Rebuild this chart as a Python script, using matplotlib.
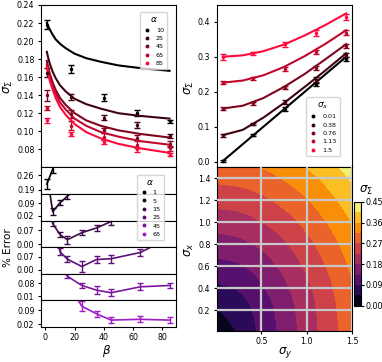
#!/usr/bin/env python3

import numpy as np
import matplotlib
matplotlib.use('Agg')
import matplotlib.pyplot as plt
import matplotlib.tri as mtri
from matplotlib.colors import LinearSegmentedColormap
from matplotlib.lines import Line2D

W, H = 382, 362

# ---- top left: sigma_Sigma vs beta for several alpha
alphas = [10, 25, 45, 65, 85]
beta_pts = [1, 17.5, 40, 62.5, 85]
sig_pts = [
    [0.218, 0.169, 0.137, 0.120, 0.111],
    [0.165, 0.138, 0.115, 0.107, 0.095],
    [0.140, 0.119, 0.101, 0.093, 0.086],
    [0.126, 0.106, 0.094, 0.085, 0.081],
    [0.112, 0.097, 0.088, 0.080, 0.074],
]
sig_err = [
    [0.005, 0.004, 0.004, 0.003, 0.002],
    [0.005, 0.003, 0.003, 0.003, 0.002],
    [0.006, 0.004, 0.003, 0.003, 0.003],
    [0.002, 0.005, 0.004, 0.004, 0.003],
    [0.003, 0.002, 0.002, 0.003, 0.002],
]
beta_fit = [1, 2, 3, 5, 7, 10, 14, 20, 28, 38, 50, 65, 85]
sig_fit = [
    [0.220, 0.216, 0.213, 0.207, 0.202, 0.197, 0.192, 0.186, 0.181, 0.177, 0.173, 0.170, 0.167],
    [0.188, 0.181, 0.175, 0.166, 0.159, 0.151, 0.144, 0.136, 0.130, 0.125, 0.120, 0.117, 0.114],
    [0.178, 0.170, 0.164, 0.154, 0.146, 0.137, 0.129, 0.120, 0.112, 0.106, 0.101, 0.097, 0.093],
    [0.174, 0.166, 0.160, 0.150, 0.142, 0.132, 0.124, 0.114, 0.106, 0.099, 0.094, 0.089, 0.085],
    [0.171, 0.163, 0.156, 0.146, 0.137, 0.127, 0.118, 0.108, 0.099, 0.092, 0.086, 0.081, 0.076],
]

# ---- bottom left: % error vs beta, one panel per alpha
err_alphas = [1, 5, 15, 25, 45, 65]
beta_err = [1, 5, 10, 15, 25, 35, 45, 65, 85]
pct_err = [
    [0.218, 0.290, 0.50, 0.70, 1.00, 1.20, 1.40, 1.80, 2.20],
    [0.254, 0.043, 0.092, 0.127, 0.200, 0.300, 0.400, 0.550, 0.700],
    [0.500, 0.105, 0.048, 0.022, 0.058, 0.082, 0.115, 0.200, 0.300],
    [0.600, 0.300, 0.096, 0.057, 0.018, 0.055, 0.059, 0.092, 0.170],
    [0.800, 0.500, 0.300, 0.119, 0.069, 0.044, 0.030, 0.062, 0.069],
    [0.900, 0.600, 0.400, 0.230, 0.111, 0.073, 0.041, 0.045, 0.041],
]
pct_err_sd = [
    [0.025, 0.020, 0.02, 0.02, 0.02, 0.02, 0.02, 0.02, 0.02],
    [0.020, 0.020, 0.015, 0.015, 0.02, 0.02, 0.02, 0.02, 0.02],
    [0.020, 0.012, 0.014, 0.020, 0.012, 0.014, 0.020, 0.02, 0.02],
    [0.020, 0.020, 0.018, 0.014, 0.030, 0.018, 0.022, 0.018, 0.02],
    [0.020, 0.020, 0.020, 0.012, 0.012, 0.020, 0.018, 0.018, 0.012],
    [0.020, 0.020, 0.020, 0.020, 0.025, 0.016, 0.016, 0.016, 0.016],
]
err_yticks = [[0.19, 0.26], [0.02, 0.09], [0.00, 0.07], [0.00, 0.07], [0.01, 0.08], [0.02, 0.09]]
err_ylims = [(0.170, 0.300), (-0.005, 0.140), (-0.016, 0.120), (-0.020, 0.120),
             (-0.011, 0.132), (0.006, 0.141)]

# ---- top right: sigma_Sigma vs sigma_y for several sigma_x
sigx_vals = [0.01, 0.38, 0.76, 1.13, 1.5]
sigy_pts = [0.01, 0.38, 0.76, 1.13, 1.5]
tot_pts = [
    [0.003, 0.076, 0.150, 0.221, 0.294],
    [0.076, 0.108, 0.170, 0.235, 0.305],
    [0.151, 0.167, 0.212, 0.268, 0.331],
    [0.226, 0.238, 0.265, 0.313, 0.369],
    [0.300, 0.310, 0.336, 0.368, 0.414],
]
tot_err = [
    [0.003, 0.003, 0.005, 0.005, 0.005],
    [0.004, 0.004, 0.005, 0.006, 0.007],
    [0.004, 0.004, 0.005, 0.006, 0.006],
    [0.004, 0.004, 0.005, 0.006, 0.008],
    [0.008, 0.005, 0.007, 0.008, 0.009],
]
sig_grid = [0.01, 0.25, 0.5, 0.75, 1.0, 1.25, 1.5]
tot_fit = [
    [0.002, 0.050, 0.100, 0.150, 0.200, 0.250, 0.300],
    [0.076, 0.091, 0.126, 0.168, 0.214, 0.261, 0.310],
    [0.152, 0.160, 0.182, 0.214, 0.251, 0.293, 0.336],
    [0.226, 0.232, 0.247, 0.271, 0.302, 0.337, 0.376],
    [0.300, 0.304, 0.316, 0.335, 0.361, 0.391, 0.424],
]

# ---- bottom right: sigma_Sigma map over (sigma_y, sigma_x)
tot_map = [
    [0.002, 0.050, 0.100, 0.150, 0.200, 0.250, 0.300],
    [0.050, 0.071, 0.112, 0.158, 0.206, 0.255, 0.304],
    [0.100, 0.112, 0.141, 0.180, 0.224, 0.269, 0.316],
    [0.150, 0.158, 0.180, 0.212, 0.250, 0.292, 0.335],
    [0.200, 0.206, 0.224, 0.250, 0.283, 0.320, 0.361],
    [0.250, 0.255, 0.269, 0.292, 0.320, 0.354, 0.391],
    [0.300, 0.304, 0.316, 0.335, 0.361, 0.391, 0.424],
]
cbar_ticks = [0.0, 0.09, 0.18, 0.27, 0.36, 0.45]

reds = LinearSegmentedColormap.from_list('k2r', ['black', '#ff0a3c'])
purples = LinearSegmentedColormap.from_list('k2p', ['black', '#9c1cc6'])


def rect(x0, y0, x1, y1):
    return [x0 / W, 1 - y1 / H, (x1 - x0) / W, (y1 - y0) / H]


def label(fig, x, y, s, rot=0, fs=8.5):
    fig.text(x / W, 1 - y / H, s, rotation=rot, fontsize=fs, ha='center', va='center')


def dot_handles(colors):
    return [Line2D([], [], ls='none', marker='o', ms=1.8, color=c) for c in colors]


def main():
    fig = plt.figure(figsize=(W / 100, H / 100), dpi=100)
    tick_fs = 5.7
    leg_kw = dict(fontsize=4.6, title_fontsize=6.5, handlelength=1.2,
                  labelspacing=0.45, borderpad=0.5)

    # top left
    ax = fig.add_axes(rect(40.7, 5, 175.7, 167.3))
    cols = [reds(i / (len(alphas) - 1)) for i in range(len(alphas))]
    for i, c in enumerate(cols):
        ax.plot(beta_fit, sig_fit[i], color=c, lw=1.5)
        ax.errorbar(beta_pts, sig_pts[i], yerr=sig_err[i], fmt='.', ms=3, color=c,
                    capsize=2.2, elinewidth=1, capthick=1)
    ax.set_xlim(-3.2, 89.2)
    ax.set_ylim(0.06, 0.24)
    ax.set_yticks(np.arange(0.08, 0.241, 0.02))
    ax.tick_params(labelsize=tick_fs, length=2.5, pad=2)
    ax.tick_params(axis='x', length=0, labelbottom=False)
    ax.legend(dot_handles(cols), [str(a) for a in alphas], title=r'$\alpha$',
              loc='upper right', bbox_to_anchor=(0.96, 0.975), **leg_kw)
    label(fig, 8, 87, r'$\sigma_\Sigma$', rot=90)

    # bottom left stack
    n = len(err_alphas)
    top, bot = 167.3, 327.0
    h = (bot - top) / n
    pcols = [purples(i / (n - 1)) for i in range(n)]
    for i in range(n):
        a = fig.add_axes(rect(40.7, top + i * h, 175.7, top + (i + 1) * h))
        a.errorbar(beta_err, pct_err[i], yerr=pct_err_sd[i], color=pcols[i], lw=1.2,
                   capsize=2.5, elinewidth=1, capthick=1)
        a.set_xlim(-3.2, 89.2)
        a.set_ylim(*err_ylims[i])
        a.set_yticks(err_yticks[i])
        a.set_yticklabels(['%.2f' % v for v in err_yticks[i]])
        a.tick_params(labelsize=tick_fs, length=2.5, pad=2)
        if i < n - 1:
            a.tick_params(axis='x', length=0, labelbottom=False)
        else:
            a.set_xticks([0, 20, 40, 60, 80])
    label(fig, 8, 248, '% Error', rot=90, fs=7.5)
    label(fig, 107, 351, r'$\beta$')
    fig.legend(dot_handles(pcols), [str(a) for a in err_alphas], title=r'$\alpha$',
               loc='upper right', bbox_to_anchor=(167 / W, 1 - 171.5 / H), **leg_kw)

    # top right
    ax2 = fig.add_axes(rect(216.7, 5, 352.3, 167.3))
    xcols = [reds(i / (len(sigx_vals) - 1)) for i in range(len(sigx_vals))]
    for i, c in enumerate(xcols):
        ax2.plot(sig_grid, tot_fit[i], color=c, lw=1.5)
        ax2.errorbar(sigy_pts, tot_pts[i], yerr=tot_err[i], fmt='.', ms=3, color=c,
                     capsize=2.2, elinewidth=1, capthick=1)
    ax2.set_ylim(-0.016, 0.448)
    ax2.set_yticks([0.0, 0.1, 0.2, 0.3, 0.4])
    ax2.tick_params(labelsize=tick_fs, length=2.5, pad=2)
    ax2.tick_params(axis='x', length=0, labelbottom=False)
    ax2.legend(dot_handles(xcols), [str(v) for v in sigx_vals], title=r'$\sigma_x$',
               loc='lower right', bbox_to_anchor=(0.93, 0.05), **leg_kw)
    label(fig, 189, 88, r'$\sigma_\Sigma$', rot=90)

    # bottom right
    ax3 = fig.add_axes(rect(216.7, 167.3, 352.3, 331))
    gx, gy = np.meshgrid(sig_grid, sig_grid)
    tri = mtri.Triangulation(gx.ravel(), gy.ravel())
    z = np.array(tot_map).ravel()
    refiner = mtri.UniformTriRefiner(tri)
    interp = mtri.CubicTriInterpolator(tri, z, kind='geom')
    tri_f, z_f = refiner.refine_field(z, triinterpolator=interp, subdiv=4)
    levels = np.linspace(0, 0.45, 11)
    cf = ax3.tricontourf(tri_f, z_f, levels=levels, cmap='inferno', zorder=0)
    ax3.set_xlim(0.01, 1.5)
    ax3.set_ylim(0.01, 1.5)
    ax3.set_xticks([0.5, 1.0, 1.5])
    ax3.set_yticks([0.2, 0.4, 0.6, 0.8, 1.0, 1.2, 1.4])
    for xt in ax3.get_xticks():
        ax3.axvline(xt, color='#c8c8c8', lw=1.6, zorder=3)
    for yt in ax3.get_yticks():
        ax3.axhline(yt, color='#c8c8c8', lw=1.6, zorder=3)
    ax3.tick_params(labelsize=tick_fs, length=2.5, pad=2)
    label(fig, 285, 353, r'$\sigma_y$')
    label(fig, 189, 250, r'$\sigma_x$', rot=90)

    cax = fig.add_axes(rect(354.3, 201.7, 360.7, 305.7))
    cb = fig.colorbar(cf, cax=cax, ticks=cbar_ticks)
    cb.ax.set_yticklabels(['%.2f' % v for v in cbar_ticks])
    cb.ax.tick_params(labelsize=tick_fs, length=2, pad=1.5)
    label(fig, 366, 190, r'$\sigma_\Sigma$')

    fig.savefig('out.png', dpi=100)


if __name__ == "__main__":
    main()
